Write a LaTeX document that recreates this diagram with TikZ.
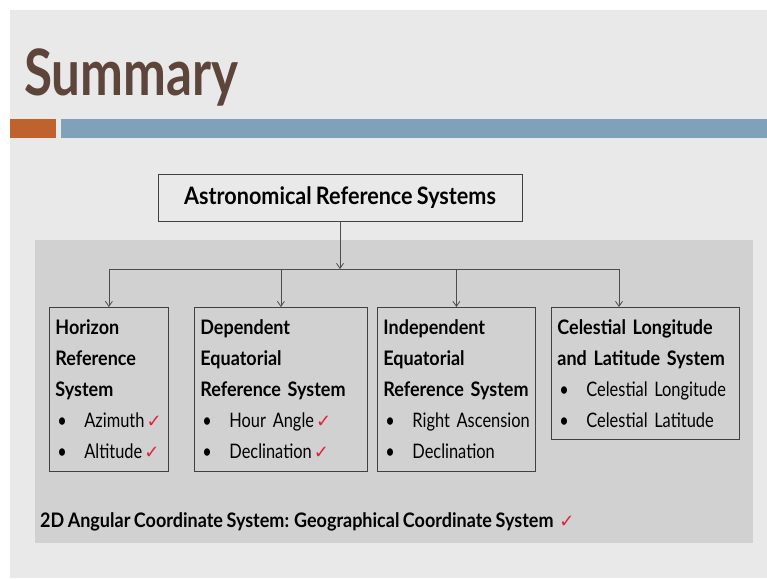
\documentclass[tikz,border=0pt]{standalone}
\usepackage{fontspec}
\setmainfont{Lato}[FakeStretch=0.82, WordSpace=0.8, BoldFeatures={FakeStretch=0.9}]
\newfontfamily\titlefont{Lato}[FakeStretch=0.8]
\newfontfamily\symfont{DejaVu Sans}
\usetikzlibrary{arrows.meta}
\definecolor{slide}{HTML}{E9E9E9}
\definecolor{panel}{HTML}{D1D1D1}
\definecolor{brown}{HTML}{5D453C}
\definecolor{rust}{HTML}{C0622E}
\definecolor{steel}{HTML}{80A1BA}
\definecolor{chk}{HTML}{E0203C}
\newcommand{\ck}{\hspace{2pt}{\color{chk}\symfont\fontsize{18}{18}\selectfont ✓}}
\newcommand{\hd}[1]{\mbox{\textbf{#1}}}
\newcommand{\itm}[1]{\mbox{\hspace*{2pt}\makebox[27pt][l]{\textbullet}#1}}
\tikzset{
  box/.style={draw=black!75, line width=0.8pt, align=left, anchor=north west,
    inner xsep=6pt, inner ysep=0pt, font=\fontsize{20}{31}\selectfont},
  link/.style={draw=black!70, line width=0.8pt, -{Straight Barb[length=5pt,width=7pt]}}
}
\begin{document}
\begin{tikzpicture}[x=1pt, y=-1pt]
  \useasboundingbox (0,0) rectangle (767,578);
  \fill[slide] (10,10) rectangle (767,578);
  \fill[rust] (10,119) rectangle (56,138);
  \fill[steel] (61,119) rectangle (767,138);
  \fill[panel] (35,240) rectangle (753,543);

  \node[anchor=base west, inner sep=0pt, text=brown, font=\titlefont\bfseries\fontsize{64}{64}\selectfont] (title) at (24,95) {Summary};

  \node[draw=black!75, line width=0.8pt, fill=slide, minimum width=364pt, minimum height=47pt,
    font=\bfseries\fontsize{24}{28}\selectfont] (ars) at (340,197.5) {Astronomical Reference Systems};

  \node[box, text width=107pt, minimum height=164pt] (hor) at (49,307)
    {\hd{Horizon}\\ \hd{Reference}\\ \hd{System}\\ \itm{Azimuth\ck}\\ \itm{Altitude\ck}};
  \node[box, text width=161pt, minimum height=164pt] (dep) at (194,307)
    {\hd{Dependent}\\ \hd{Equatorial}\\ \hd{Reference System}\\ \itm{Hour Angle\ck}\\ \itm{Declination\ck}};
  \node[box, text width=146pt, minimum height=164pt] (ind) at (377,307)
    {\hd{Independent}\\ \hd{Equatorial}\\ \hd{Reference System}\\ \itm{Right Ascension}\\ \itm{Declination}};
  \node[box, text width=176pt, minimum height=132pt] (cel) at (551,307)
    {\hd{Celestial Longitude}\\ \hd{and Latitude System}\\ \itm{Celestial Longitude}\\ \itm{Celestial Latitude}};

  \node[anchor=west, inner sep=0pt, font=\bfseries\fontsize{20}{24}\selectfont] (geo) at (40,522)
    {2D Angular Coordinate System: Geographical Coordinate System\hspace{6pt}{\color{chk}\mdseries\symfont\fontsize{18}{18}\selectfont ✓}};

  \coordinate (hub) at (ars.south |- 0,269);
  \coordinate (celtop) at ([xshift=68pt]cel.north west);
  \draw[link] (ars) -- (hub);
  \draw[draw=black!70, line width=0.8pt] (hor.north |- hub) -- (celtop |- hub);
  \foreach \n in {hor,dep,ind}
    \draw[link] (\n.north |- hub) -- (\n.north);
  \draw[link] (celtop |- hub) -- (celtop);
\end{tikzpicture}
\end{document}
